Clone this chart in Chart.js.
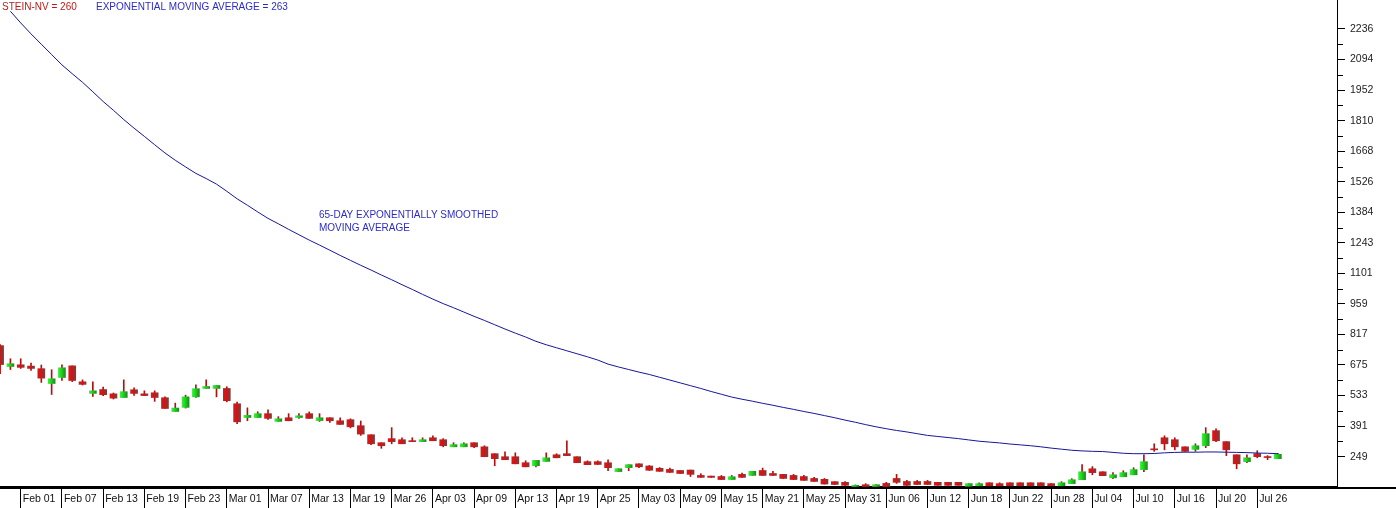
<!DOCTYPE html>
<html>
<head>
<meta charset="utf-8">
<script src="https://cdn.jsdelivr.net/npm/chart.js@4.4.1/dist/chart.umd.min.js"></script>
<style>
html, body { margin: 0; padding: 0; background: #fff; }
#chart { display: block; }
</style>
</head>
<body>
<canvas id="chart" width="1396" height="508"></canvas>
<script>
// ===== Data (one entry per trading day) =====
const openPrices = [
    765, 668, 676, 670, 658, 589, 617, 671, 597, 543,
    561, 541, 524, 560, 541, 546, 523, 459, 478, 527,
    566, 566, 566, 495, 431, 431, 449, 413, 430, 431,
    449, 417, 430, 416, 421, 393, 351, 314, 333, 328,
    323, 319, 337, 328, 295, 295, 314, 295, 263, 249,
    249, 221, 207, 227, 258, 263, 249, 226, 226, 221,
    180, 198, 216, 206, 195, 190, 185, 187, 162, 159,
    157, 143, 167, 162, 185, 171, 167, 162, 157, 148,
    144, 133, 130, 111, 119, 111, 125, 148, 134, 134,
    134, 130, 130, 130, 112, 114, 128, 124, 128, 128,
    128, 128, 124, 114, 124, 142, 193, 179, 151, 156,
    165, 189, 283, 337, 328, 295, 283, 300, 370, 319,
    258, 226, 263, 247, 240
];
const highPrices = [
    770, 704, 704, 684, 675, 653, 676, 671, 606, 597,
    572, 545, 606, 569, 555, 555, 527, 498, 535, 583,
    606, 580, 574, 503, 476, 458, 467, 435, 449, 449,
    457, 449, 430, 430, 425, 415, 351, 314, 384, 337,
    337, 337, 346, 333, 314, 314, 314, 300, 263, 272,
    267, 230, 232, 267, 263, 323, 249, 230, 230, 235,
    193, 212, 216, 208, 199, 196, 185, 187, 170, 159,
    162, 162, 173, 181, 196, 181, 167, 167, 162, 153,
    148, 133, 133, 118, 124, 119, 130, 167, 139, 139,
    139, 130, 130, 130, 124, 128, 128, 128, 128, 128,
    128, 128, 124, 133, 147, 212, 203, 179, 175, 184,
    198, 258, 309, 346, 337, 295, 309, 384, 379, 319,
    258, 258, 277, 254, 265
];
const lowPrices = [
    635, 654, 659, 650, 594, 538, 603, 598, 582, 529,
    532, 517, 524, 534, 533, 506, 473, 459, 475, 524,
    566, 527, 504, 403, 416, 431, 422, 413, 416, 427,
    427, 413, 408, 399, 383, 348, 305, 288, 309, 309,
    319, 319, 323, 295, 295, 295, 291, 249, 207, 235,
    216, 202, 202, 227, 244, 254, 221, 212, 213, 184,
    180, 184, 198, 186, 181, 176, 171, 157, 153, 153,
    143, 143, 153, 162, 162, 162, 148, 143, 139, 134,
    122, 120, 116, 110, 110, 110, 110, 125, 116, 120,
    120, 116, 116, 116, 112, 114, 114, 114, 114, 114,
    114, 114, 114, 114, 124, 142, 165, 161, 147, 156,
    165, 179, 274, 281, 281, 274, 274, 291, 319, 254,
    193, 221, 244, 235, 240
];
const closePrices = [
    677, 681, 664, 659, 614, 611, 662, 603, 585, 555,
    537, 521, 551, 543, 533, 524, 473, 475, 527, 565,
    575, 580, 509, 411, 441, 449, 427, 425, 416, 439,
    427, 430, 416, 399, 388, 354, 309, 300, 319, 309,
    319, 328, 323, 300, 305, 309, 295, 249, 240, 235,
    216, 202, 232, 244, 244, 254, 221, 212, 213, 198,
    193, 212, 202, 186, 181, 176, 171, 167, 153, 153,
    143, 156, 153, 181, 162, 162, 148, 143, 139, 134,
    122, 120, 116, 116, 111, 119, 111, 130, 116, 120,
    120, 116, 116, 116, 124, 124, 114, 114, 114, 114,
    114, 114, 114, 128, 142, 179, 175, 161, 165, 175,
    189, 226, 281, 309, 295, 274, 300, 356, 323, 281,
    216, 244, 249, 245, 260
];
// 65-day exponentially smoothed moving average (starts on day 2)
const emaValues = [
    null, 2318, 2264, 2213, 2165, 2117, 2069, 2028, 1988, 1944,
    1899, 1858, 1815, 1775, 1737, 1698, 1660, 1626, 1595, 1565,
    1541, 1515, 1482, 1447, 1417, 1386, 1356, 1331, 1305, 1280,
    1255, 1232, 1208, 1184, 1161, 1138, 1116, 1093, 1071, 1048,
    1026, 1003, 981, 960, 941, 921, 901, 882, 862, 842,
    823, 805, 785, 769, 755, 741, 727, 713, 698, 679,
    666, 654, 642, 631, 618, 605, 592, 579, 566, 552,
    539, 526, 516, 507, 497, 488, 478, 469, 459, 450,
    440, 430, 419, 409, 398, 388, 379, 371, 364, 356,
    348, 343, 338, 333, 327, 321, 317, 313, 308, 304,
    300, 295, 289, 284, 279, 276, 274, 273, 269, 265,
    263, 263, 264, 267, 269, 270, 270, 271, 271, 270,
    269, 268, 266, 265, 263
];
// date labels, one every 4th trading day starting at day 3
const tickLabels = [
    'Feb 01', 'Feb 07', 'Feb 13', 'Feb 19', 'Feb 23', 'Mar 01', 'Mar 07', 'Mar 13',
    'Mar 19', 'Mar 26', 'Apr 03', 'Apr 09', 'Apr 13', 'Apr 19', 'Apr 25', 'May 03',
    'May 09', 'May 15', 'May 21', 'May 25', 'May 31', 'Jun 06', 'Jun 12', 'Jun 18',
    'Jun 22', 'Jun 28', 'Jul 04', 'Jul 10', 'Jul 16', 'Jul 20', 'Jul 26'
];
const yTicks = [249, 391, 533, 675, 817, 959, 1101, 1243, 1384, 1526, 1668, 1810, 1952, 2094, 2236];

const tickIndex = tickLabels.map((_, k) => 2 + k * 4);

// ===== Colours =====
const FONT = "'Liberation Sans', Arial, sans-serif";
const WICK = '#a81414';
const EMA_COLOR = '#16169a';

function bodyFill(context) {
    const chart = context.chart;
    const xs = chart.scales.x;
    if (!xs || !context.raw) return '#cc1414';
    const i = context.raw.x;
    const up = closePrices[i] >= openPrices[i];
    const px = xs.getPixelForValue(i);
    if (!isFinite(px)) return up ? '#1ed21e' : '#cc1414';
    const g = chart.ctx.createLinearGradient(px - 3.5, 0, px + 3.5, 0);
    if (up) {
        g.addColorStop(0, '#36f036');
        g.addColorStop(0.45, '#1ed21e');
        g.addColorStop(1, '#2a7f2a');
    } else {
        g.addColorStop(0, '#e41414');
        g.addColorStop(0.45, '#c81818');
        g.addColorStop(1, '#744040');
    }
    return g;
}

const wickData = lowPrices.map((lo, i) => ({ x: i, y: [lo, highPrices[i]] }));
const bodyData = openPrices.map((o, i) => ({ x: i, y: [o, closePrices[i]] }));
const emaData = emaValues.map((v, i) => ({ x: i, y: v }));

// ===== Extra drawing: minor ticks, base line, texts =====
const decorations = {
    id: 'decorations',
    afterDraw(chart) {
        const c = chart.ctx;
        const area = chart.chartArea;
        const ys = chart.scales.y;
        c.save();
        c.strokeStyle = '#000';
        c.lineWidth = 1;
        c.beginPath();
        for (let k = 0; k < yTicks.length - 1; k++) {
            const py = Math.round(ys.getPixelForValue((yTicks[k] + yTicks[k + 1]) / 2)) + 0.5;
            c.moveTo(area.right, py);
            c.lineTo(area.right + 6, py);
        }
        c.stroke();

        c.fillStyle = '#000';
        c.fillRect(0, area.bottom, chart.width, 2);

        c.font = '10px ' + FONT;
        c.textBaseline = 'alphabetic';
        c.textAlign = 'left';
        c.fillStyle = '#b81c1c';
        c.fillText('STEIN-NV = ' + closePrices[closePrices.length - 1], 2, 10);
        c.fillStyle = '#2c2cc4';
        c.fillText('EXPONENTIAL MOVING AVERAGE = ' + emaValues[emaValues.length - 1], 96, 10);
        c.fillText('65-DAY EXPONENTIALLY SMOOTHED', 319, 218);
        c.fillText('MOVING AVERAGE', 319, 231);
        c.restore();
    }
};

new Chart(document.getElementById('chart'), {
    type: 'bar',
    data: {
        datasets: [
            {
                type: 'line',
                data: emaData,
                borderColor: EMA_COLOR,
                borderWidth: 1,
                pointRadius: 0,
                tension: 0,
                order: 0
            },
            {
                data: bodyData,
                backgroundColor: bodyFill,
                borderWidth: 0,
                barThickness: 7,
                minBarLength: 1,
                grouped: false,
                order: 1
            },
            {
                data: wickData,
                backgroundColor: WICK,
                borderWidth: 0,
                barThickness: 1,
                grouped: false,
                order: 2
            }
        ]
    },
    options: {
        responsive: false,
        animation: false,
        devicePixelRatio: 1,
        layout: { padding: 0 },
        plugins: {
            legend: { display: false },
            tooltip: { enabled: false }
        },
        scales: {
            x: {
                type: 'linear',
                position: 'bottom',
                min: -0.01,
                max: 129.74,
                offset: false,
                grid: {
                    drawOnChartArea: false,
                    drawTicks: true,
                    tickLength: 21,
                    tickColor: '#000',
                    offset: false
                },
                border: { display: true, color: '#000', width: 2 },
                afterBuildTicks: (scale) => {
                    scale.ticks = tickIndex.map(v => ({ value: v }));
                },
                afterFit: (scale) => {
                    scale.height = 21;
                    scale.paddingLeft = 0;
                    scale.paddingRight = 0;
                },
                ticks: {
                    autoSkip: false,
                    maxRotation: 0,
                    align: 'start',
                    labelOffset: 2,
                    padding: -15,
                    color: '#111',
                    font: { family: FONT, size: 10.5 },
                    callback: (value, index) => tickLabels[index]
                }
            },
            y: {
                type: 'linear',
                position: 'right',
                min: 108.3,
                max: 2370.4,
                grid: {
                    drawOnChartArea: false,
                    drawTicks: true,
                    tickLength: 8,
                    tickColor: '#000'
                },
                border: { display: true, color: '#000', width: 1 },
                afterBuildTicks: (scale) => {
                    scale.ticks = yTicks.map(v => ({ value: v }));
                },
                afterFit: (scale) => {
                    scale.width = 59;
                    scale.paddingTop = 0;
                    scale.paddingBottom = 0;
                },
                ticks: {
                    padding: 5,
                    color: '#222',
                    font: { family: FONT, size: 10.5 },
                    callback: (value) => String(value)
                }
            }
        }
    },
    plugins: [decorations]
});
</script>
</body>
</html>
